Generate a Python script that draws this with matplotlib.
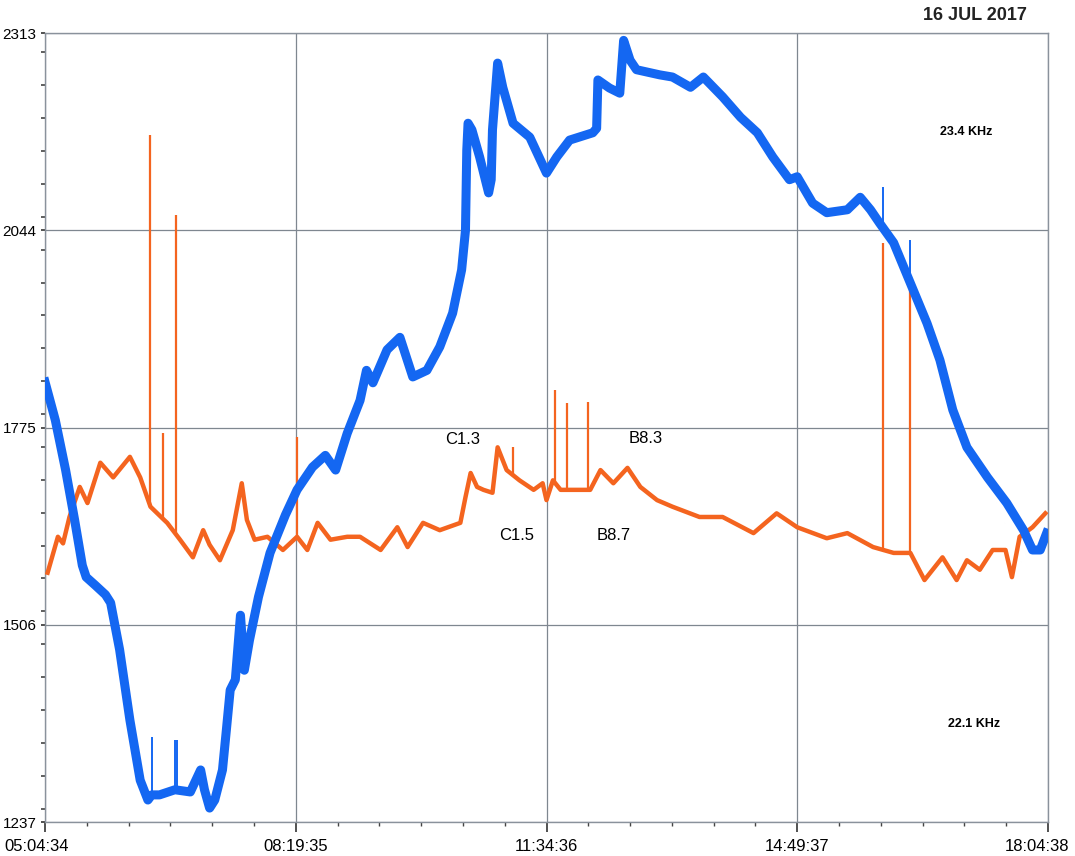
import matplotlib
matplotlib.use("Agg")
import matplotlib.pyplot as plt
from matplotlib.ticker import FixedLocator, MultipleLocator
from matplotlib.transforms import ScaledTranslation
import numpy as np

plt.rcParams["font.family"] = ["Liberation Sans", "DejaVu Sans"]

# minutes since 05:04:34, amplitude in counts
blue_t = [0, 8, 16, 23, 29, 32, 39, 47, 51, 58, 66, 74, 80, 83, 89, 101, 113,
          121, 124, 128, 132, 138, 141, 144, 148, 152, 155, 159, 166, 175, 187,
          196, 208, 218, 226, 235, 245, 250, 255, 266, 276, 286, 297, 307, 317,
          324, 327, 328, 329, 332, 338, 345, 347, 348, 352, 356, 364, 377, 390,
          398, 408, 426, 429, 430, 439, 447, 450, 455, 460, 478, 488, 502, 512,
          527, 541, 554, 566, 579, 585, 597, 608, 624, 634, 642, 649, 660, 673,
          686, 696, 706, 717, 733, 748, 761, 768, 774, 779]
blue_v = [1837, 1785, 1717, 1649, 1587, 1571, 1560, 1547, 1536, 1472, 1376,
          1294, 1267, 1274, 1274, 1281, 1278, 1308, 1281, 1256, 1267, 1308,
          1362, 1417, 1431, 1519, 1444, 1485, 1544, 1604, 1656, 1690, 1721,
          1737, 1717, 1767, 1812, 1853, 1836, 1881, 1898, 1844, 1853, 1885,
          1931, 1990, 2044, 2153, 2190, 2181, 2144, 2095, 2113, 2181, 2272,
          2239, 2190, 2171, 2122, 2144, 2167, 2177, 2183, 2249, 2238, 2231,
          2303, 2276, 2263, 2256, 2253, 2239, 2253, 2226, 2198, 2177, 2144,
          2113, 2117, 2081, 2068, 2072, 2089, 2072, 2054, 2027, 1972, 1917,
          1867, 1799, 1748, 1707, 1672, 1635, 1608, 1608, 1631]
blue_spike_t = [83, 101, 103, 652, 673]
blue_spike_v = [1353, 1349, 1349, 2103, 2031]

orange_t = [2, 10, 14, 19, 27, 33, 43, 53, 66, 74, 82, 92, 95, 105, 115, 123,
            128, 136, 146, 153, 157, 163, 173, 185, 196, 204, 212, 222, 235,
            245, 261, 274, 282, 294, 307, 323, 327, 331, 336, 341, 348, 352,
            359, 369, 380, 387, 390, 395, 401, 414, 424, 432, 442, 453, 463,
            476, 488, 509, 527, 551, 569, 585, 608, 624, 644, 660, 673, 684,
            698, 709, 717, 727, 737, 747, 752, 758, 768, 778]
orange_v = [1577, 1626, 1617, 1653, 1694, 1672, 1727, 1707, 1735, 1707, 1667,
            1650, 1645, 1622, 1598, 1635, 1615, 1594, 1635, 1699, 1649, 1622,
            1626, 1608, 1626, 1608, 1645, 1622, 1626, 1626, 1608, 1639, 1612,
            1645, 1635, 1645, 1680, 1713, 1694, 1690, 1686, 1748, 1717, 1703,
            1690, 1699, 1676, 1703, 1690, 1690, 1690, 1717, 1699, 1720, 1694,
            1676, 1667, 1653, 1653, 1631, 1658, 1639, 1624, 1631, 1612, 1604,
            1604, 1567, 1598, 1567, 1594, 1581, 1608, 1608, 1571, 1626, 1639,
            1658]
orange_spike_t = [82, 92, 102, 196, 364, 397, 406, 422, 652, 673]
orange_spike_v = [2174, 1767, 2065, 1762, 1748, 1826, 1808, 1810, 2027, 1963]

y_ticks = [1237, 1506, 1775, 2044, 2313]
x_labels = ["05:04:34", "08:19:35", "11:34:36", "14:49:37", "18:04:38"]
x_span = 780.07

notes = [("C1.3", 325, 1758), ("C1.5", 367, 1628), ("B8.3", 467, 1760),
         ("B8.7", 442, 1628)]

blue = "#1467f2"
orange = "#f4641f"

fig = plt.figure(figsize=(10.75, 8.56), dpi=100)
ax = fig.add_axes([0.0419, 0.0397, 0.9330, 0.9217])

ax.plot(orange_t, orange_v, color=orange, lw=3.2, zorder=3)
ax.vlines(orange_spike_t, np.interp(orange_spike_t, orange_t, orange_v),
          orange_spike_v, color=orange, lw=1.6, zorder=3)
ax.plot(blue_t, blue_v, color=blue, lw=6.5, zorder=4)
ax.vlines(blue_spike_t, np.interp(blue_spike_t, blue_t, blue_v),
          blue_spike_v, color=blue, lw=1.4, zorder=4)

ax.set_xlim(0, x_span)
ax.set_ylim(1237, 2313)

major_x = np.linspace(0, x_span, len(x_labels))
ax.xaxis.set_major_locator(FixedLocator(major_x))
ax.xaxis.set_minor_locator(MultipleLocator(x_span / 24))
ax.set_xticklabels(x_labels)
ax.yaxis.set_major_locator(FixedLocator(y_ticks))
ax.yaxis.set_minor_locator(MultipleLocator(269 / 6))
ax.set_yticklabels([str(v) for v in y_ticks])

ax.tick_params(axis="x", which="major", length=7, width=1.2, pad=5,
               labelsize=12, color="#333333")
ax.tick_params(axis="x", which="minor", length=3, width=1.0, color="#444444")
ax.tick_params(axis="y", which="major", length=3, width=1.2, pad=3,
               labelsize=11, color="#333333")
ax.tick_params(axis="y", which="minor", length=3, width=1.2, color="#444444")

# pull the end labels inwards so they stay on the page
xlabs = ax.get_xticklabels()
xlabs[0].set_transform(xlabs[0].get_transform()
                       + ScaledTranslation(-0.08, 0, fig.dpi_scale_trans))
xlabs[-1].set_transform(xlabs[-1].get_transform()
                        + ScaledTranslation(-0.11, 0, fig.dpi_scale_trans))

ax.grid(True, which="major", color="#7f8790", lw=0.9)
ax.set_axisbelow(True)
for s in ax.spines.values():
    s.set_color("#8a929c")
    s.set_linewidth(1.0)

for txt, x, y in notes:
    ax.text(x, y, txt, fontsize=12, ha="center", va="center", zorder=5)

ax.text(0.918, 0.874, "23.4 KHz", transform=ax.transAxes, fontsize=9,
        fontweight="bold", ha="center", va="center")
ax.text(0.926, 0.124, "22.1 KHz", transform=ax.transAxes, fontsize=9,
        fontweight="bold", ha="center", va="center")
fig.text(0.907, 0.982, "16 JUL 2017", fontsize=13, fontweight="bold",
         family=["Liberation Sans Narrow", "Liberation Sans"], ha="center",
         va="center", color="#222222")

fig.savefig("out.png", dpi=100)
